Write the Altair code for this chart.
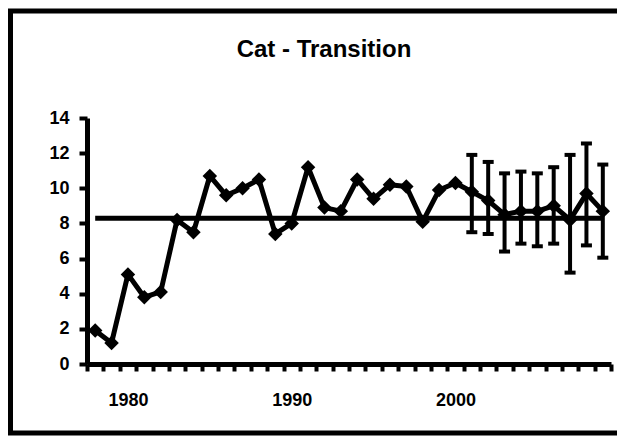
import altair as alt
import pandas as pd

# ---- data ----
years = [1978, 1979, 1980, 1981, 1982, 1983, 1984, 1985, 1986, 1987, 1988,
         1989, 1990, 1991, 1992, 1993, 1994, 1995, 1996, 1997, 1998, 1999,
         2000, 2001, 2002, 2003, 2004, 2005, 2006, 2007, 2008, 2009]
values = [1.9, 1.2, 5.1, 3.8, 4.1, 8.2, 7.5, 10.7, 9.6, 10.0, 10.5,
          7.4, 8.0, 11.2, 8.9, 8.7, 10.5, 9.4, 10.2, 10.1, 8.1, 9.9,
          10.3, 9.8, 9.3, 8.5, 8.7, 8.7, 9.0, 8.2, 9.7, 8.7]
mean_value = 8.3

err_years = [2001, 2002, 2003, 2004, 2005, 2006, 2007, 2008, 2009]
err_upper = [11.9, 11.5, 10.85, 10.95, 10.85, 11.2, 11.9, 12.55, 11.35]
err_lower = [7.5, 7.4, 6.4, 6.85, 6.7, 6.85, 5.2, 6.75, 6.05]

x_label_years = [1980, 1990, 2000]
y_ticks = [0, 2, 4, 6, 8, 10, 12, 14]
title_text = "Cat - Transition"

# ---- tables ----
df = pd.DataFrame({"year": years, "value": values,
                   "mean": [mean_value] * len(years)})
edf = pd.DataFrame({"year": err_years, "upper": err_upper, "lower": err_lower})
frame_df = pd.DataFrame({"k": [0]})

tick_positions = [y - 0.5 for y in years] + [years[-1] + 0.5]
label_list = ",".join(str(v) for v in x_label_years)

FONT = "Liberation Sans"
W, H = 524, 246

x_scale = alt.Scale(domain=[years[0] - 0.5, years[-1] + 0.5], nice=False, zero=False)
y_scale = alt.Scale(domain=[y_ticks[0], y_ticks[-1]], nice=False)

axis_common = dict(
    domainColor="black", domainWidth=5, tickColor="black", tickWidth=4,
    labelFont=FONT, labelFontWeight="bold", labelFontSize=18, labelColor="black",
    grid=False, title=None, labelOverlap=False, labelFlush=False,
)
x_axis = alt.Axis(
    values=tick_positions,
    labelExpr=f"indexof([{label_list}], datum.value + 0.5) >= 0 ? format(datum.value + 0.5, 'd') : ''",
    labelOffset=8.2,
    tickSize=7,
    labelPadding=20,
    **axis_common,
)
y_axis = alt.Axis(values=y_ticks, tickSize=8, labelPadding=10, **axis_common)


def X():
    return alt.X("year:Q", scale=x_scale, axis=x_axis)


def Y(field):
    return alt.Y(field, scale=y_scale, axis=y_axis)


frame = alt.Chart(frame_df).mark_rect(
    fill="transparent", stroke="black", strokeWidth=5
).encode(x=alt.value(-76.5), x2=alt.value(560), y=alt.value(-107), y2=alt.value(315))

base = alt.Chart(df)
mean_line = base.mark_line(color="black", strokeWidth=5).encode(
    x=X(), y=Y("mean:Q"))
line = base.mark_line(color="black", strokeWidth=5, strokeJoin="round").encode(
    x=X(), y=Y("value:Q"))
points = base.mark_point(shape="diamond", filled=True, size=210,
                         color="black", opacity=1).encode(x=X(), y=Y("value:Q"))

ebase = alt.Chart(edf)
err_rules = ebase.mark_rule(color="black", strokeWidth=4).encode(
    x=X(), y=Y("lower:Q"), y2="upper:Q")
cap_top = ebase.mark_tick(orient="horizontal", size=11, thickness=4,
                          color="black", opacity=1).encode(x=X(), y=Y("upper:Q"))
cap_bot = ebase.mark_tick(orient="horizontal", size=11, thickness=4,
                          color="black", opacity=1).encode(x=X(), y=Y("lower:Q"))

chart = alt.layer(
    frame, mean_line, line, points, err_rules, cap_top, cap_bot
).properties(
    width=W,
    height=H,
    background="white",
    title=alt.Title(title_text, font=FONT, fontSize=24, fontWeight="bold",
                    color="black", anchor="middle", baseline="alphabetic",
                    dx=-25, dy=72, offset=0),
    autosize=alt.AutoSizeParams(type="none"),
    padding={"left": 79, "top": 110, "right": 6, "bottom": 72},
).configure_view(strokeWidth=0)

chart.save("out.html", embed_options={"renderer": "svg", "actions": False})
